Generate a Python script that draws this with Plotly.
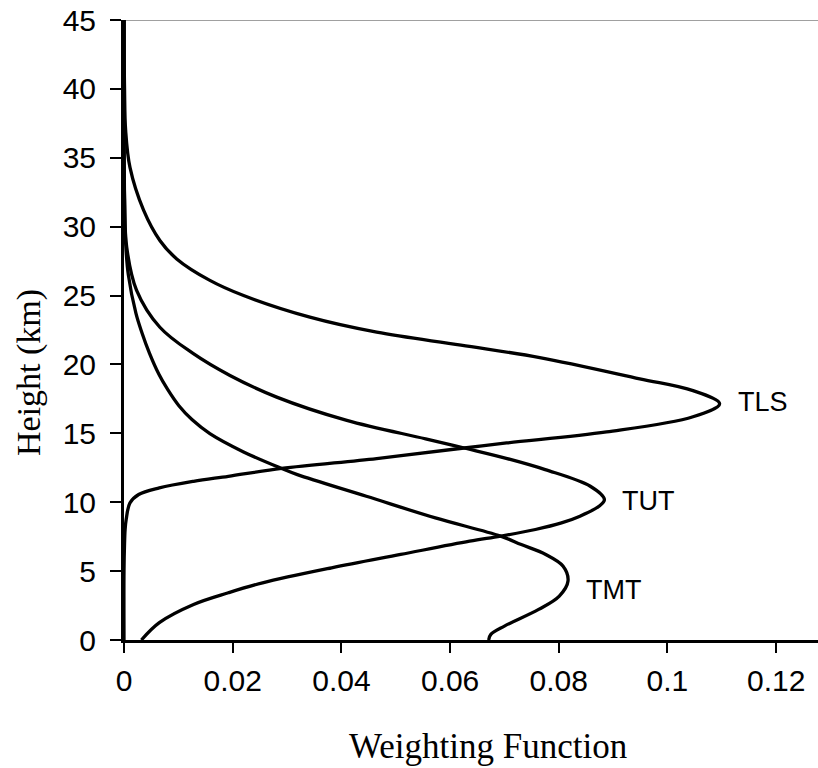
import plotly.graph_objects as go

# Weighting functions: height (km) vs weight
tls_height = [0, 5, 7, 8, 8.74, 9.95, 10.56, 11.04, 11.52, 11.88, 12.45, 13.17, 13.9, 14.3, 15.1,
              16.2, 17.15, 18.1, 18.96, 20.5, 21.4, 22.34, 23.43, 25.0, 26.1, 27.66, 29.0, 31.2,
              34.3, 37, 40, 45]
tls_weight = [0, 0, 0.0001, 0.0002, 0.0004, 0.0011, 0.0027, 0.0065, 0.0128, 0.0192, 0.0290, 0.0465,
              0.0618, 0.0704, 0.0888, 0.1047, 0.1096, 0.1047, 0.0949, 0.0765, 0.062, 0.0465, 0.0342,
              0.022, 0.0158, 0.0097, 0.0066, 0.0036, 0.0011, 0.0003, 0.0001, 0]

tut_height = [0, 1.26, 2.58, 3.43, 4.15, 5.24, 6.21, 7.17, 7.54, 8.02, 8.5, 8.99, 9.71, 10.19, 11.16,
              12.37, 13.17, 13.9, 14.6, 15.94, 17.63, 19.2, 20.8, 22.7, 25.4, 28.5, 32, 45]
tut_weight = [0.0032, 0.0065, 0.0128, 0.0192, 0.0255, 0.0382, 0.0509, 0.0636, 0.0693, 0.0757,
              0.0805, 0.0839, 0.0874, 0.0884, 0.0858, 0.0775, 0.0705, 0.0630, 0.0555, 0.0410, 0.0281,
              0.0195, 0.0127, 0.0066, 0.0023, 0.0005, 0.0001, 0]

tmt_height = [0, 0.41, 1.01, 2.22, 3.19, 4.28, 5.36, 6.21, 6.93, 7.54, 8.86, 10.43, 12.0, 12.45,
              13.65, 14.98, 16.0, 17.0, 18.2, 19.3, 20.8, 22.3, 23.7, 26.5, 28.8, 32, 45]
tmt_weight = [0.0671, 0.0675, 0.0700, 0.0763, 0.0801, 0.0817, 0.0808, 0.0776, 0.0731, 0.0693,
              0.0573, 0.0446, 0.0319, 0.0290, 0.0220, 0.0158, 0.0125, 0.0101, 0.0080, 0.0064,
              0.0047, 0.0033, 0.0022, 0.0008, 0.0003, 0.0001, 0]

labels = ["TLS", "TUT", "TMT"]
label_x = [0.1127, 0.0913, 0.0846]
label_y = [17.25, 10.09, 3.62]

x_ticks = [0, 0.02, 0.04, 0.06, 0.08, 0.1, 0.12]
x_ticktext = ["0", "0.02", "0.04", "0.06", "0.08", "0.1", "0.12"]
y_ticks = [0, 5, 10, 15, 20, 25, 30, 35, 40, 45]

W, H = 818, 768
ML, MT, MB = 124, 20, 128
PW, PH = W - ML, H - MT - MB

fig = go.Figure()
for hs, ws, name in [(tls_height, tls_weight, "TLS"), (tut_height, tut_weight, "TUT"),
                     (tmt_height, tmt_weight, "TMT")]:
    fig.add_trace(go.Scatter(x=ws, y=hs, mode="lines", name=name,
                             line=dict(color="black", width=3.3, shape="spline", smoothing=1.0),
                             showlegend=False, hoverinfo="skip", cliponaxis=False))

for t, lx, ly in zip(labels, label_x, label_y):
    fig.add_annotation(x=lx, y=ly, xref="x", yref="y", text=t, showarrow=False,
                       xanchor="left", yanchor="middle",
                       font=dict(family="Liberation Sans, Arial", size=27, color="black"))

fig.add_annotation(x=(488 - 124) / PW, y=(640 - 746) / PH, xref="paper", yref="paper",
                   text="Weighting Function", showarrow=False, xanchor="center", yanchor="middle",
                   font=dict(family="Liberation Serif, Times New Roman", size=35, color="black"))
fig.add_annotation(x=(29 - 124) / PW, y=(640 - 373) / PH, xref="paper", yref="paper",
                   text="Height (km)", showarrow=False, textangle=-90,
                   xanchor="center", yanchor="middle",
                   font=dict(family="Liberation Serif, Times New Roman", size=34, color="black"))

fig.add_shape(type="line", xref="paper", yref="y", x0=0, x1=1, y0=45, y1=45,
              line=dict(color="#a0a0a0", width=2), layer="below")

fig.update_layout(
    width=W, height=H,
    margin=dict(l=ML, r=0, t=MT, b=MB, autoexpand=False),
    paper_bgcolor="white", plot_bgcolor="white",
    xaxis=dict(range=[0, 0.1277], tickvals=x_ticks, ticktext=x_ticktext, automargin=False,
               showgrid=False, zeroline=False, showline=True, linecolor="black", linewidth=3,
               ticks="outside", ticklen=10, tickwidth=2, tickcolor="black",
               tickfont=dict(family="Liberation Sans, Arial", size=30, color="black"),
               ticklabelstandoff=2, ticklabeloverflow="allow"),
    yaxis=dict(range=[0, 45], tickvals=y_ticks, automargin=False,
               showgrid=False, zeroline=False, showline=True, linecolor="black", linewidth=3,
               ticks="outside", ticklen=11, tickwidth=2, tickcolor="black",
               tickfont=dict(family="Liberation Sans, Arial", size=30, color="black"),
               ticklabelstandoff=8, ticklabeloverflow="allow"),
)

# remove the default 8px page margin so the figure fills the window exactly
fig.write_html("out.html", config={"displayModeBar": False},
               post_script="document.body.style.margin='0';"
                           "document.body.style.overflow='hidden';")
